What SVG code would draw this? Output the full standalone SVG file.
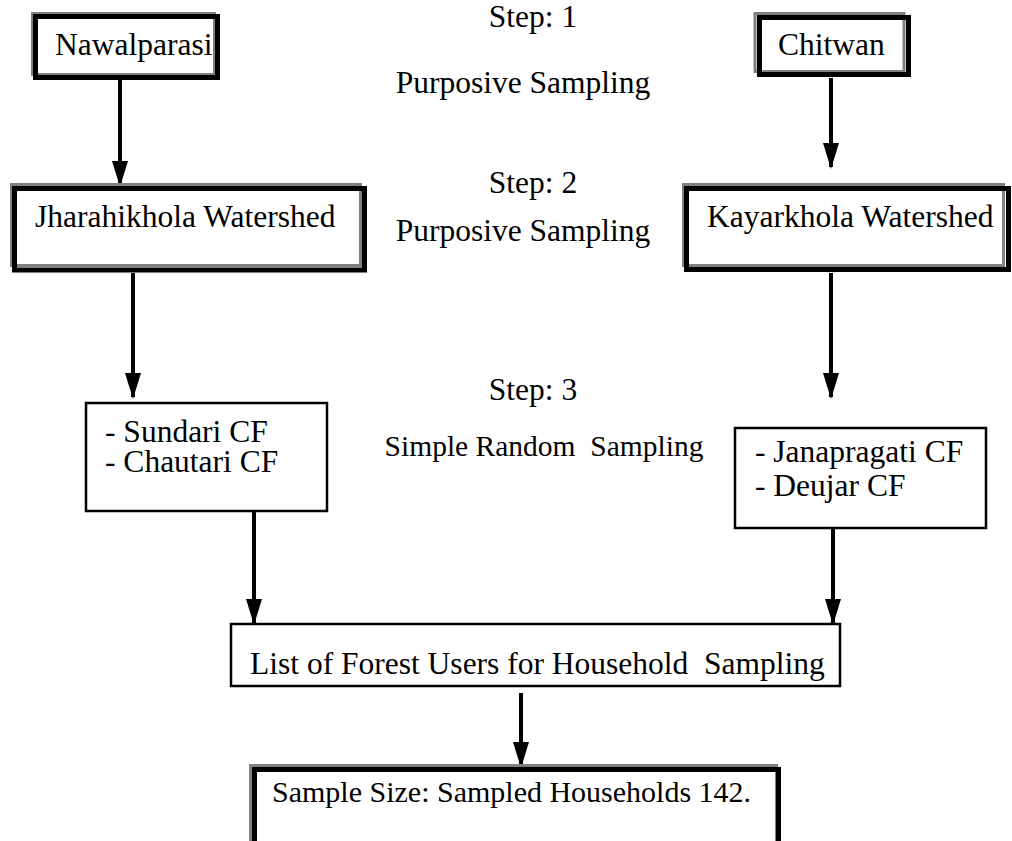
<svg xmlns="http://www.w3.org/2000/svg" width="1012" height="841" viewBox="0 0 1012 841">
<style>
text{font-family:'Liberation Serif','Times New Roman','DejaVu Serif',serif;font-size:31.5px;fill:#000;white-space:pre}
.g{fill:#fff;stroke:#808080;stroke-width:3}
.k{fill:none;stroke:#000;stroke-width:5}
.b{fill:#fff;stroke:#000;stroke-width:2.5}
.c{stroke:#000;stroke-width:4;fill:none;marker-end:url(#ah)}
</style>
<defs>
<marker id="ah" markerUnits="userSpaceOnUse" markerWidth="26" markerHeight="16" refX="24" refY="8" orient="auto">
<path d="M0,0 L26,8 L0,16 z" fill="#000"/>
</marker>
</defs>
<rect width="1012" height="841" fill="#fff"/>
<g id="connectors">
<line class="c" x1="120" y1="80" x2="120" y2="185"/>
<line class="c" x1="831" y1="78" x2="831" y2="167"/>
<line class="c" x1="133" y1="273" x2="133" y2="397"/>
<line class="c" x1="831" y1="273" x2="831" y2="397"/>
<line class="c" x1="254" y1="511" x2="254" y2="623"/>
<line class="c" x1="833" y1="528" x2="833" y2="623"/>
<line class="c" x1="521" y1="693" x2="521" y2="766"/>
</g>
<g id="nawalparasi">
<rect class="g" x="32.5" y="13.5" width="182" height="61"/>
<rect class="k" x="35.5" y="16.5" width="182" height="61"/>
<text x="55" y="55">Nawalparasi</text>
</g>
<g id="chitwan">
<rect class="g" x="755" y="13.5" width="149" height="58"/>
<rect class="k" x="759.5" y="17.5" width="149" height="57"/>
<text x="778" y="55">Chitwan</text>
</g>
<g id="jharahikhola">
<rect class="g" x="11.5" y="184.5" width="349" height="81"/>
<rect class="k" x="14.5" y="188.5" width="350" height="81.5"/>
<text x="35" y="227">Jharahikhola Watershed</text>
</g>
<g id="kayarkhola">
<rect class="g" x="683.5" y="184.5" width="320" height="81"/>
<rect class="k" x="686.5" y="188.5" width="322" height="81"/>
<text x="707" y="227">Kayarkhola Watershed</text>
</g>
<g id="step1">
<text x="533" y="27" text-anchor="middle">Step: 1</text>
<text x="523" y="93" text-anchor="middle">Purposive Sampling</text>
</g>
<g id="step2">
<text x="533" y="193" text-anchor="middle">Step: 2</text>
<text x="523" y="241" text-anchor="middle">Purposive Sampling</text>
</g>
<g id="step3">
<text x="533" y="400" text-anchor="middle">Step: 3</text>
<text x="544" y="456" text-anchor="middle" style="font-size:29.5px">Simple Random  Sampling</text>
</g>
<g id="sundari">
<rect class="b" x="86" y="403" width="241" height="108"/>
<text x="105" y="442">- Sundari CF</text>
<text x="105" y="472">- Chautari CF</text>
</g>
<g id="janapragati">
<rect class="b" x="735" y="428" width="251" height="100"/>
<text x="755" y="462">- Janapragati CF</text>
<text x="755" y="496">- Deujar CF</text>
</g>
<g id="list">
<rect class="b" x="231" y="624" width="609" height="62"/>
<text x="250" y="674">List of Forest Users for Household  Sampling</text>
</g>
<g id="sample">
<rect class="g" x="250.5" y="765.5" width="526" height="100"/>
<rect class="k" x="254.5" y="769.5" width="524" height="100"/>
<text x="272" y="802" style="font-size:30px">Sample Size: Sampled Households 142.</text>
</g>
</svg>
